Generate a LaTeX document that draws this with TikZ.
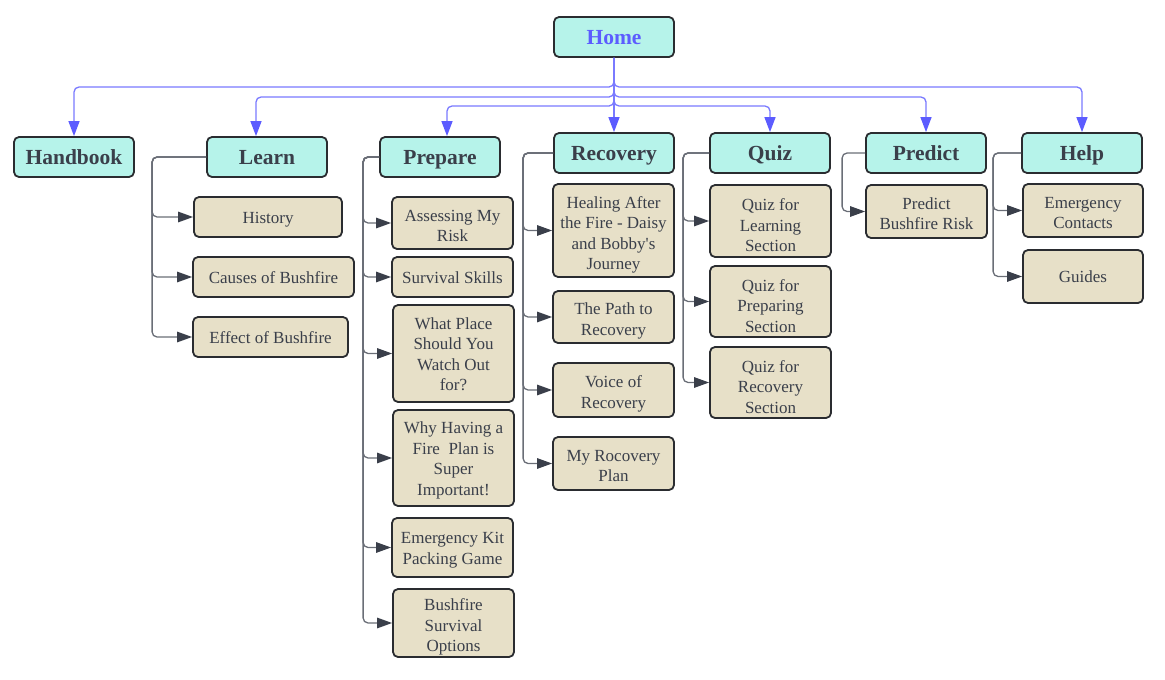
\documentclass[tikz,border=0pt]{standalone}
\usepackage{fontspec}
\setmainfont{Liberation Serif}
\usetikzlibrary{arrows.meta}

\definecolor{headfill}{HTML}{B6F3EA}
\definecolor{leaffill}{HTML}{E7E0C8}
\definecolor{boxline}{HTML}{2A2C30}
\definecolor{txt}{HTML}{3A3F4A}
\definecolor{hometxt}{HTML}{5C5CFF}
\definecolor{linkblue}{HTML}{7A7AFF}
\definecolor{tipblue}{HTML}{5C5CFF}
\definecolor{subline}{HTML}{6A6E77}
\definecolor{tipgray}{HTML}{3A3F4A}

% centred lines with a fixed strut per line; the optional argument adds
% room above the first line, which lowers the block by half that amount
\newcommand\celltext[2][0pt]{%
  \begin{tabular}{@{}c@{}}\rule{0pt}{\dimexpr16.5pt+#1\relax}#2\end{tabular}}

\begin{document}
\begin{tikzpicture}[x=1pt,y=-1pt,
  box/.style={draw=boxline, line width=1.8pt, rounded corners=5pt,
              inner xsep=2pt, inner ysep=0pt, text=txt},
  head/.style={box, fill=headfill, minimum width=120pt, minimum height=40pt,
               font=\fontsize{21.5}{24}\selectfont\bfseries
                    \setbox\strutbox\hbox{\vrule height19.1pt depth4.9pt width0pt}},
  leaf/.style={box, fill=leaffill,
               font=\fontsize{17}{20.5}\selectfont
                    \setbox\strutbox\hbox{\vrule height16.5pt depth4pt width0pt}},
  size/.style 2 args={minimum width=#1pt, minimum height=#2pt},
  mainlink/.style={draw=linkblue, line width=1.3pt, rounded corners=5pt,
                   -{Triangle[length=15pt,width=11pt,color=tipblue]}},
  sublink/.style={draw=subline, line width=1.3pt, rounded corners=5pt,
                  -{Triangle[length=15pt,width=10.5pt,color=tipgray]}}
]
\useasboundingbox (0,0) rectangle (1165,680);

% top level
\node[head, text=hometxt] (home) at (614,37) {\celltext{Home}};
\node[head] (handbook) at (74,157)  {\celltext{Handbook}};
\node[head] (learn)    at (267,157) {\celltext{Learn}};
\node[head] (prepare)  at (440,157) {\celltext{Prepare}};
\node[head] (recovery) at (614,153) {\celltext{Recovery}};
\node[head] (quiz)     at (770,153) {\celltext{Quiz}};
\node[head] (predict)  at (926,153) {\celltext{Predict}};
\node[head] (help)     at (1082,153) {\celltext{Help}};

% Learn pages
\node[leaf, size={148}{40}] (history) at (268,217)   {\celltext{History}};
\node[leaf, size={161}{40}] (causes)  at (273.5,277) {\celltext{Causes of Bushfire}};
\node[leaf, size={155}{40}] (effect)  at (270.5,337) {\celltext{Effect of Bushfire}};

% Prepare pages
\node[leaf, size={121}{52}] (assess)   at (452.5,223)   {\celltext[4pt]{Assessing My\\Risk}};
\node[leaf, size={121}{40}] (skills)   at (452.5,277)   {\celltext{Survival Skills}};
\node[leaf, size={121}{97}] (place)    at (453.5,353.5) {\celltext{What Place\\Should You\\Watch Out\\for?}};
\node[leaf, size={121}{96}] (plan)     at (453.5,458)   {\celltext{Why Having a\\Fire\ \ Plan is\\Super\\Important!}};
\node[leaf, size={121}{59}] (kit)      at (452.5,547.5) {\celltext{Emergency Kit\\Packing Game}};
\node[leaf, size={121}{68}] (options)  at (453.5,623)   {\celltext[4pt]{Bushfire\\Survival\\Options}};

% Recovery pages
\node[leaf, size={121}{93}] (healing)  at (613.5,230.5) {\celltext[4pt]{Healing After\\the Fire - Daisy\\and Bobby\textquotesingle s\\Journey}};
\node[leaf, size={121}{52}] (path)     at (613.5,317)   {\celltext[3pt]{The Path to\\Recovery}};
\node[leaf, size={121}{54}] (voice)    at (613.5,390)   {\celltext[3pt]{Voice of\\Recovery}};
\node[leaf, size={121}{53}] (myplan)   at (613.5,463.5) {\celltext[3pt]{My Rocovery\\Plan}};

% Quiz pages
\node[leaf, size={121}{72}] (qlearn)   at (770.5,221)   {\celltext[8pt]{Quiz for\\Learning\\Section}};
\node[leaf, size={121}{71}] (qprep)    at (770.5,301.5) {\celltext[8pt]{Quiz for\\Preparing\\Section}};
\node[leaf, size={121}{71}] (qrecov)   at (770.5,382.5) {\celltext[8pt]{Quiz for\\Recovery\\Section}};

% Predict page
\node[leaf, size={121}{53}] (risk)     at (926.5,211.5) {\celltext[3pt]{Predict\\Bushfire Risk}};

% Help pages
\node[leaf, size={120}{53}] (contacts) at (1083,210.5)  {\celltext[3pt]{Emergency\\Contacts}};
\node[leaf, size={120}{53}] (guides)   at (1083,276.5)  {\celltext{Guides}};

% links from Home
\draw[mainlink] (home.south) |- (74,87)   -- (handbook.north);
\draw[mainlink] (home.south) |- (256,97)  -- ([xshift=-11pt]learn.north);
\draw[mainlink] (home.south) |- (447,106) -- ([xshift=7pt]prepare.north);
\draw[mainlink] (home.south) -- (recovery.north);
\draw[mainlink] (home.south) |- (770,106) -- (quiz.north);
\draw[mainlink] (home.south) |- (926,97)  -- (predict.north);
\draw[mainlink] (home.south) |- (1082,87) -- (help.north);

% section links
\foreach \c in {history,causes,effect}
  \draw[sublink] (learn.west) -- ++(-54,0) |- (\c.west);
\foreach \c in {assess,skills,place,plan,kit,options}
  \draw[sublink] (prepare.west) -- ++(-16,0) |- (\c.west);
\foreach \c in {healing,path,voice,myplan}
  \draw[sublink] (recovery.west) -- ++(-30,0) |- (\c.west);
\foreach \c in {qlearn,qprep,qrecov}
  \draw[sublink] (quiz.west) -- ++(-26,0) |- (\c.west);
\draw[sublink] (predict.west) -- ++(-23,0) |- (risk.west);
\foreach \c in {contacts,guides}
  \draw[sublink] (help.west) -- ++(-28,0) |- (\c.west);
\end{tikzpicture}
\end{document}
